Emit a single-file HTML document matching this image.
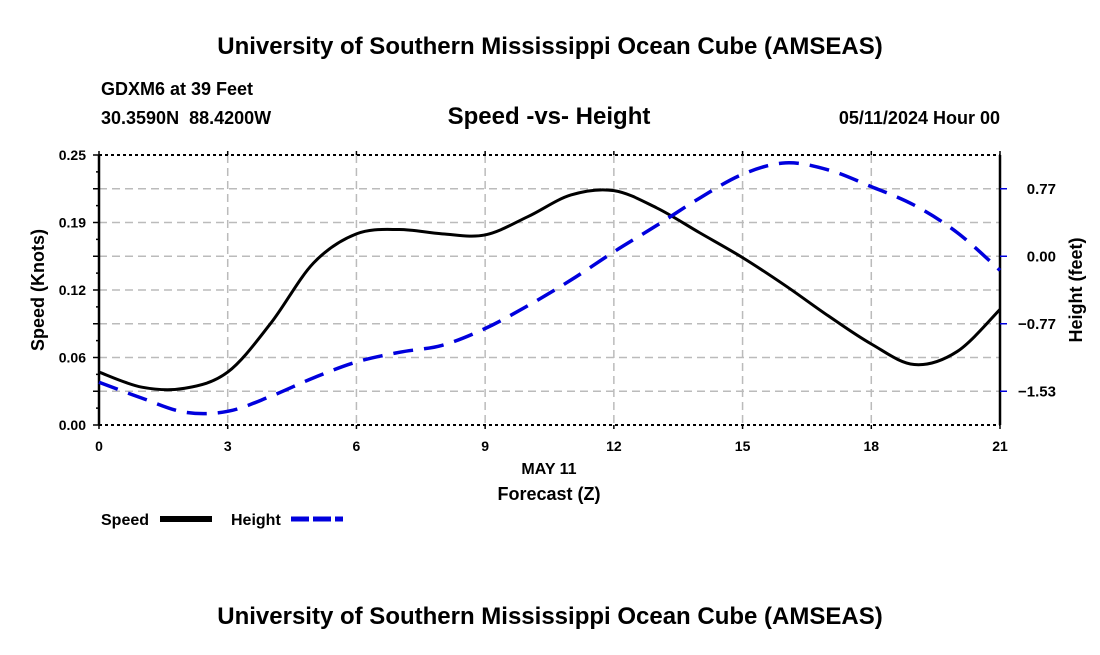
<!DOCTYPE html>
<html><head><meta charset="utf-8"><style>
body{margin:0;background:#fff;}
svg text{font-family:"Liberation Sans",Arial,sans-serif;font-weight:bold;fill:#000;}
</style></head><body>
<svg width="1100" height="650" viewBox="0 0 1100 650">
<text x="550" y="54" font-size="24" text-anchor="middle">University of Southern Mississippi Ocean Cube (AMSEAS)</text>
<text x="101" y="95" font-size="18">GDXM6 at 39 Feet</text>
<text x="101" y="124" font-size="18">30.3590N&#160;&#160;88.4200W</text>
<text x="549" y="124" font-size="24" text-anchor="middle">Speed -vs- Height</text>
<text x="1000" y="124" font-size="18" text-anchor="end">05/11/2024 Hour 00</text>
<g id="grid"></g>
<g id="axes"></g>
<path id="speedLine" fill="none" stroke="#000" stroke-width="3"/>
<path id="heightLine" fill="none" stroke="#0000dd" stroke-width="3.5" stroke-dasharray="20,11"/>
<text x="549" y="474" font-size="16" text-anchor="middle">MAY 11</text>
<text x="549" y="500" font-size="18" text-anchor="middle">Forecast (Z)</text>
<text transform="translate(44,290) rotate(-90)" font-size="18" text-anchor="middle">Speed (Knots)</text>
<text transform="translate(1082,290) rotate(-90)" font-size="18" text-anchor="middle">Height (feet)</text>
<g>
<text x="101" y="525" font-size="16">Speed</text>
<line x1="160" y1="519" x2="212" y2="519" stroke="#000" stroke-width="6"/></g>
<g>
<text x="231" y="525" font-size="16">Height</text>
<line x1="291" y1="519" x2="343" y2="519" stroke="#0000dd" stroke-width="5" stroke-dasharray="18,4"/></g>
<text x="550" y="624" font-size="24" text-anchor="middle">University of Southern Mississippi Ocean Cube (AMSEAS)</text>
</svg>
<script>
const hours=[0,1,2,3,4,5,6,7,8,9,10,11,12,13,14,15,16,17,18,19,20,21];
const speed=[0.049,0.035,0.034,0.049,0.094,0.150,0.177,0.181,0.177,0.176,0.193,0.213,0.217,0.201,0.178,0.155,0.129,0.101,0.075,0.056,0.068,0.107];
const height=[-1.43,-1.61,-1.77,-1.76,-1.59,-1.38,-1.20,-1.09,-1.01,-0.82,-0.56,-0.27,0.05,0.35,0.66,0.93,1.06,0.98,0.79,0.58,0.27,-0.16];
const xTicks=[0,3,6,9,12,15,18,21];
const leftTicks=[0,0.0625,0.125,0.1875,0.25];
const leftLabels=["0.00","0.06","0.12","0.19","0.25"];
const rightTicks=[-1.532,-0.766,0,0.766];
const rightLabels=["\u22121.53","\u22120.77","0.00","0.77"];
const X0=99,X1=1000,Y0=425,Y1=155;
const xs=h=>X0+(h-0)/(21-0)*(X1-X0);
const ys=v=>Y0-(v/0.25)*(Y0-Y1);
const HMIN=-1.915,HMAX=1.149;
const yh=v=>Y0-(v-HMIN)/(HMAX-HMIN)*(Y0-Y1);
const NS='http://www.w3.org/2000/svg';
function mk(t,a,p){const e=document.createElementNS(NS,t);for(const k in a)e.setAttribute(k,a[k]);p.appendChild(e);return e;}
const grid=document.getElementById('grid'),axes=document.getElementById('axes');
for(let i=1;i<8;i++){const y=Y0-i*(Y0-Y1)/8;
 const l=mk('line',{x1:X0,x2:X1,y1:y,y2:y,stroke:'#bbb','stroke-width':1.5,'stroke-dasharray':'8,5'},grid);
 }
xTicks.forEach(h=>{const x=xs(h);
 if(h>0&&h<21){const l=mk('line',{x1:x,x2:x,y1:Y1,y2:Y0,stroke:'#bbb','stroke-width':1.5,'stroke-dasharray':'8,5'},grid);
 }
 mk('line',{x1:x,x2:x,y1:Y1-4,y2:Y1,stroke:'#000','stroke-width':1.5},axes);
 mk('line',{x1:x,x2:x,y1:Y0,y2:Y0+4,stroke:'#000','stroke-width':1.5},axes);
 const t=mk('text',{x:x,y:Y0+26,'font-size':14,'text-anchor':'middle'},axes);t.textContent=h;
 });
mk('line',{x1:X0,x2:X1,y1:Y1,y2:Y1,stroke:'#000','stroke-width':2,'stroke-dasharray':'3,3'},axes);
mk('line',{x1:X0,x2:X1,y1:Y0,y2:Y0,stroke:'#000','stroke-width':2,'stroke-dasharray':'3,3'},axes);
mk('line',{x1:X0,x2:X0,y1:Y1,y2:Y0,stroke:'#000','stroke-width':2.5},axes);
mk('line',{x1:X1,x2:X1,y1:Y1,y2:Y0,stroke:'#000','stroke-width':2.5},axes);
for(let i=0;i<=16;i++){const y=Y0-i*(Y0-Y1)/16;mk('line',{x1:X0-(i%2?3:6),x2:X0,y1:y,y2:y,stroke:'#000','stroke-width':1.5},axes);}
leftTicks.forEach((v,i)=>{const t=mk('text',{x:86,y:ys(v)+5,'font-size':14,'text-anchor':'end'},axes);t.textContent=leftLabels[i];
 });
rightTicks.forEach((v,i)=>{const y=yh(v);mk('line',{x1:X1,x2:X1+7,y1:y,y2:y,stroke:'#0000dd','stroke-width':1.5},axes);
 const t=mk('text',{x:1056,y:y+5,'font-size':15,'text-anchor':'end'},axes);t.textContent=rightLabels[i];
 });
function spline(pts){let d='M'+pts[0][0]+','+pts[0][1];
 for(let i=0;i<pts.length-1;i++){const p0=pts[Math.max(i-1,0)],p1=pts[i],p2=pts[i+1],p3=pts[Math.min(i+2,pts.length-1)];
  const c1=[p1[0]+(p2[0]-p0[0])/6,p1[1]+(p2[1]-p0[1])/6],c2=[p2[0]-(p3[0]-p1[0])/6,p2[1]-(p3[1]-p1[1])/6];
  d+=' C'+c1+' '+c2+' '+p2;}return d;}
document.getElementById('speedLine').setAttribute('d',spline(hours.map((h,i)=>[xs(h),ys(speed[i])])));
document.getElementById('heightLine').setAttribute('d',spline(hours.map((h,i)=>[xs(h),yh(height[i])])));
</script>
</body></html>
